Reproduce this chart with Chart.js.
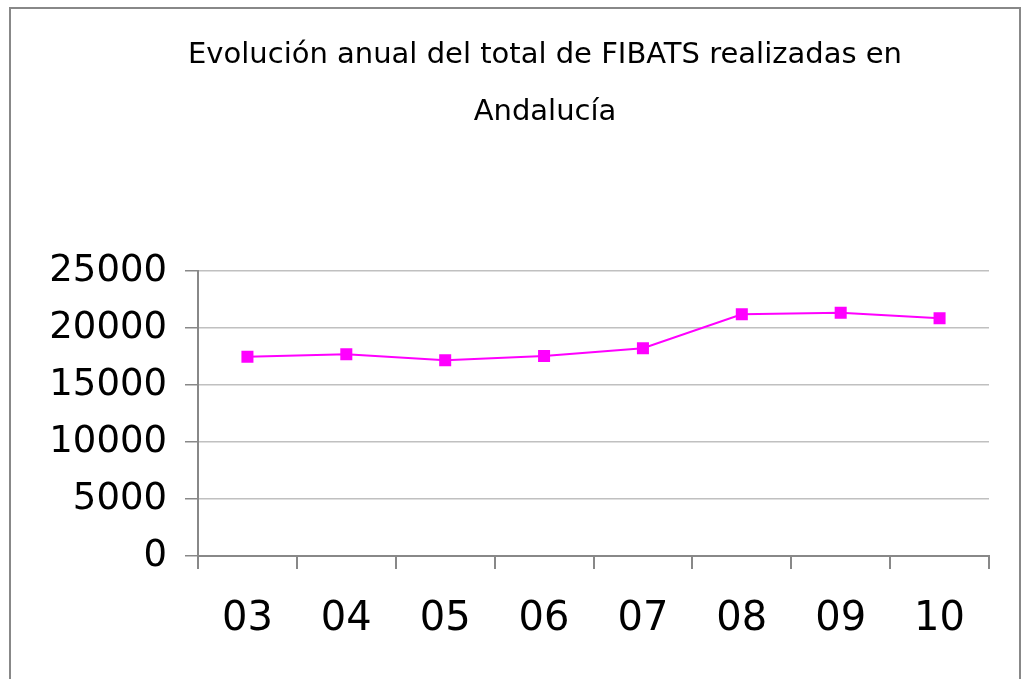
<html>
<head>
<script src="https://cdn.jsdelivr.net/npm/chart.js@4.4.0/dist/chart.umd.min.js"></script>
<style>
  body { margin: 0; background: #fff; }
  #frame {
    position: absolute; left: 9px; top: 7px; width: 1008px; height: 700px;
    border: 2px solid #888; pointer-events: none;
  }
  canvas { position: absolute; left: 0; top: 0; }
</style>
</head>
<body>
<canvas id="myChart" width="1021" height="679"></canvas>
<div id="frame"></div>
<script>
  // data
  var years = ['03', '04', '05', '06', '07', '08', '09', '10'];
  var fibats = [17480, 17690, 17170, 17540, 18220, 21200, 21340, 20850];
  var yTicks = [0, 5000, 10000, 15000, 20000, 25000];
  var titleLines = ['Evolución anual del total de FIBATS realizadas en', 'Andalucía'];

  // title sits off-centre in the original, so draw it by hand
  var titlePlugin = {
    id: 'offTitle',
    afterDraw: function (c) {
      var g = c.ctx;
      g.save();
      g.font = '29px "DejaVu Sans"';
      g.fillStyle = '#000';
      g.textAlign = 'center';
      g.textBaseline = 'middle';
      g.fillText(titleLines[0], 545, 55);
      g.fillText(titleLines[1], 545, 112);
      g.restore();
    }
  };

  var ctx = document.getElementById('myChart').getContext('2d');
  let chart = new Chart(ctx, {
    type: 'line',
    data: {
      labels: years,
      datasets: [{
        label: 'FIBATS',
        data: fibats,
        borderColor: '#ff00ff',
        backgroundColor: '#ff00ff',
        borderWidth: 2,
        pointStyle: 'rect',
        pointRadius: 8.5,
        pointBorderWidth: 0,
        fill: false,
        tension: 0
      }]
    },
    plugins: [titlePlugin],
    options: {
      responsive: false,
      animation: false,
      layout: { padding: { left: 12, right: 32, top: 271, bottom: 8 } },
      plugins: {
        legend: { display: false },
        tooltip: { enabled: false },
        title: { display: false }
      },
      scales: {
        x: {
          offset: true,
          grid: { offset: true, drawOnChartArea: false, color: '#888', tickLength: 13, lineWidth: 2 },
          border: { color: '#888', width: 2 },
          ticks: { color: '#000', padding: 27, font: { family: 'DejaVu Sans', size: 40 } }
        },
        y: {
          min: 0, max: 25000,
          afterFit: function (s) { s.width = 186; },
          afterBuildTicks: function (s) { s.ticks = yTicks.map(v => ({ value: v })); },
          grid: { color: '#c0c0c0', tickColor: '#888', tickLength: 13, lineWidth: 1.5 },
          border: { color: '#888', width: 2 },
          ticks: {
            color: '#000', padding: 18,
            font: { family: 'DejaVu Sans', size: 37 },
            callback: function (v) { return String(v); }
          }
        }
      }
    }
  });
</script>
</body>
</html>
